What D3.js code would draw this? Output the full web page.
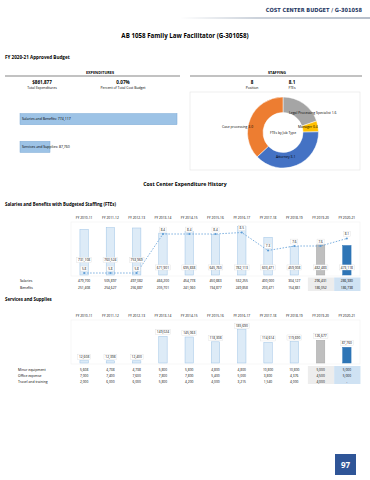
<!DOCTYPE html>
<html><head><meta charset="utf-8">
<script src="https://cdn.jsdelivr.net/npm/d3@7"></script>
<style>body{margin:0;background:#fff}svg{display:block}text{font-family:"Open Sans","Noto Sans",sans-serif}</style>
</head><body>
<script>
const years = ["FY 2010-11","FY 2011-12","FY 2012-13","FY 2013-14","FY 2014-15","FY 2015-16","FY 2016-17","FY 2017-18","FY 2018-19","FY 2019-20","FY 2020-21"];
const salBenTotals = [731108, 760524, 753969, 671901, 695838, 645760, 782113, 603471, 459008, 482483, 473118];
const salaries = [479700, 505897, 497082, 466200, 454778, 450883, 532255, 400000, 304127, 296431, 286380];
const benefits = [251408, 254627, 256887, 205701, 241060, 194877, 249858, 203471, 154881, 186052, 186738];
const ftes = [5.8, 5.8, 5.8, 8.4, 8.4, 8.4, 8.5, 7.3, 7.6, 7.6, 8.1];
const svcTotals = [12608, 12398, 12400, 149024, 145063, 118308, 185690, 114614, 119690, 126677, 87760];
const minorEquip = ["5,608","4,738","4,738","5,800","5,800","4,800","4,800","10,800","10,800","5,000","5,000"];
const officeExp = ["7,000","7,400","7,600","7,800","7,800","5,400","5,000","3,800","4,376","4,500","5,000"];
const travel = ["2,000","6,000","6,000","5,800","4,200","4,000","3,215","1,540","4,000","4,000","-"];
const jobTypes = ["Legal Processing Specialist","Manager","Attorney","Case processing"];
const jobFtes = [1.6, 0.4, 3.1, 3.0];
const expCats = ["Salaries and Benefits","Services and Supplies"];
const expVals = [774117, 87760];

const fmt = d3.format(",");
const svg = d3.select("body").append("svg").attr("width",370).attr("height",480);

function boxLabel(g, xx, yy, t, fs){
  const w = t.length*fs*0.55+2;
  g.append("rect").attr("x",xx-w/2).attr("y",yy-fs-0.3).attr("width",w).attr("height",fs+1.8).attr("fill","#fff").attr("stroke","#d9d9d9").attr("stroke-width",0.35);
  g.append("text").attr("x",xx).attr("y",yy).attr("text-anchor","middle").style("font-size",fs+"px").text(t);
}

// header
svg.append("text").attr("x",362).attr("y",12).attr("text-anchor","end")
  .style("font-family","'DejaVu Sans Condensed','DejaVu Sans'").style("font-weight","bold").style("font-size","5.6px").attr("fill","#1f3864")
  .text("COST CENTER BUDGET / G-301058");
const hg = svg.append("defs").append("linearGradient").attr("id","hg");
hg.append("stop").attr("offset","0").attr("stop-color","#fff");
hg.append("stop").attr("offset","0.4").attr("stop-color","#9aa7b8");
hg.append("stop").attr("offset","1").attr("stop-color","#6f7f96");
svg.append("rect").attr("x",180).attr("y",17.5).attr("width",190).attr("height",1).attr("fill","url(#hg)");

svg.append("text").attr("x",185).attr("y",37.5).attr("text-anchor","middle").style("font-weight","bold").style("font-size","6.2px").text("AB 1058 Family Law Facilitator (G-301058)");
svg.append("text").attr("x",5).attr("y",59).style("font-weight","bold").style("font-size","4.6px").text("FY 2020-21 Approved Budget");

function secHead(x, x1, x2, t){
  svg.append("text").attr("x",x).attr("y",73.5).attr("text-anchor","middle").style("font-weight","bold").style("font-size","3.8px").text(t);
  svg.append("line").attr("x1",x1).attr("x2",x2).attr("y1",76).attr("y2",76).attr("stroke","#333").attr("stroke-width",0.6);
}
secHead(100,5,180,"EXPENDITURES");
secHead(277,190,362,"STAFFING");
function kpi(x, v, l){
  svg.append("text").attr("x",x).attr("y",83.5).attr("text-anchor","middle").style("font-weight","bold").style("font-size","4.6px").text(v);
  svg.append("text").attr("x",x).attr("y",89).attr("text-anchor","middle").style("font-size","3.4px").text(l);
}
kpi(42,"$861,877","Total Expenditures");
kpi(123,"0.07%","Percent of Total Cost Budget");
kpi(252,"8","Position");
kpi(292,"8.1","FTEs");

const xe = d3.scaleLinear().domain([0, d3.max(expVals)]).range([0,157]);
const ye = d3.scaleBand().domain(expCats).range([108,158]).paddingInner(0.6).paddingOuter(0.2);
expCats.forEach((c,i)=>{
  const w = Math.max(xe(expVals[i]), 30);
  svg.append("rect").attr("x",20).attr("y",ye(c)).attr("width",w).attr("height",ye.bandwidth()).attr("fill","#9dc3e6").attr("stroke","#7ba7d4").attr("stroke-width",0.5);
  svg.append("text").attr("x",22).attr("y",ye(c)+ye.bandwidth()/2+1.3).style("font-size","3.5px").text(c+": "+fmt(expVals[i]));
});

// donut
svg.append("rect").attr("x",190).attr("y",92).attr("width",170).attr("height",78).attr("fill","none").attr("stroke","#e3e3e3").attr("stroke-width",0.6);
const pie = d3.pie().sort(null).value(d=>d)(jobFtes);
const arc = d3.arc().innerRadius(20).outerRadius(35.5);
const cols = ["#a5a5a5","#ffc000","#4472c4","#ed7d31"];
const dg = svg.append("g").attr("transform","translate(283,132.5)");
dg.selectAll("path").data(pie).join("path").attr("d",arc).attr("fill",(d,i)=>cols[i]).attr("stroke","#fff").attr("stroke-width",0.5);
const lpos = [[289,114],[298,127.5],[276,158],[222,127.5]];
jobTypes.forEach((t,i)=>{
  svg.append("text").attr("x",lpos[i][0]).attr("y",lpos[i][1]).style("font-size","3.4px").text(t+" "+jobFtes[i].toFixed(1));
});
svg.append("text").attr("x",283).attr("y",134).attr("text-anchor","middle").style("font-size","3.4px").text("FTEs by Job Type");

svg.append("text").attr("x",185).attr("y",186).attr("text-anchor","middle").style("font-weight","bold").style("font-size","5.2px").text("Cost Center Expenditure History");
svg.append("text").attr("x",5).attr("y",206).style("font-weight","bold").style("font-size","4.4px").text("Salaries and Benefits with Budgeted Staffing (FTEs)");

const x = d3.scaleBand().domain(years).range([71,360]).paddingInner(0.68).paddingOuter(0.34);
const cx = d=>x(d)+x.bandwidth()/2;
function barFill(i){return i===10?"#2e75b6":i===9?"#bfbfbf":"#ddebf7";}
function barStroke(i){return i===10?"#2e75b6":i===9?"#a6a6a6":"#9dc3e6";}

// salaries chart
svg.selectAll(".yh1").data(years).join("text").attr("x",d=>cx(d)).attr("y",218.5).attr("text-anchor","middle").style("font-size","3.3px").text(d=>d);
svg.append("rect").attr("x",71).attr("y",222).attr("width",289).attr("height",54).attr("fill","none").attr("stroke","#eee").attr("stroke-width",0.5);
const ys = d3.scaleLinear().domain([0,850000]).range([275,222]);
svg.selectAll(".sb").data(salBenTotals).join("rect").attr("x",(d,i)=>x(years[i])).attr("y",d=>ys(d)).attr("width",x.bandwidth()).attr("height",d=>275-ys(d))
  .attr("fill",(d,i)=>barFill(i)).attr("stroke",(d,i)=>barStroke(i)).attr("stroke-width",0.5);
const yf = d3.scaleLinear().domain([5.8,8.1]).range([273,238.5]);
const line = d3.line().x((d,i)=>cx(years[i])).y(d=>yf(d));
svg.append("path").attr("d",line(ftes)).attr("fill","none").attr("stroke","#5b9bd5").attr("stroke-width",0.8).attr("stroke-dasharray","1.5,1.5");
svg.selectAll(".fp").data(ftes).join("circle").attr("cx",(d,i)=>cx(years[i])).attr("cy",d=>yf(d)).attr("r",1).attr("fill","#5b9bd5");
const lab = svg.append("g");
salBenTotals.forEach((d,i)=>boxLabel(lab, cx(years[i]), i<3?261:268.5, fmt(d), 3.3));
ftes.forEach((d,i)=>boxLabel(lab, cx(years[i]), yf(d)-3.5, d.toFixed(1), 3.1));

function rowBg(y0,h){
  svg.append("rect").attr("x",x(years[9])-8.5).attr("y",y0).attr("width",26.3).attr("height",h).attr("fill","#ededed");
  svg.append("rect").attr("x",x(years[10])-8.5).attr("y",y0).attr("width",26.3).attr("height",h).attr("fill","#cfe2f3");
}
rowBg(277.5,13.5);
[["Salaries",salaries],["Benefits",benefits]].forEach((r,j)=>{
  const yy = 282+j*6.5;
  svg.append("text").attr("x",20).attr("y",yy).style("font-size","3.4px").text(r[0]);
  r[1].forEach((v,i)=>svg.append("text").attr("x",cx(years[i])).attr("y",yy).attr("text-anchor","middle").style("font-size","3.3px").text(fmt(v)));
});

// services chart
svg.append("text").attr("x",5).attr("y",301).style("font-weight","bold").style("font-size","4.4px").text("Services and Supplies");
svg.selectAll(".yh2").data(years).join("text").attr("x",d=>cx(d)).attr("y",317).attr("text-anchor","middle").style("font-size","3.3px").text(d=>d);
svg.append("rect").attr("x",71).attr("y",320).attr("width",289).attr("height",44).attr("fill","none").attr("stroke","#eee").attr("stroke-width",0.5);
const yv = d3.scaleLinear().domain([0,240000]).range([363,320]);
svg.selectAll(".sv").data(svcTotals).join("rect").attr("x",(d,i)=>x(years[i])).attr("y",d=>yv(d)).attr("width",x.bandwidth()).attr("height",d=>363-yv(d))
  .attr("fill",(d,i)=>barFill(i)).attr("stroke",(d,i)=>barStroke(i)).attr("stroke-width",0.5);
svcTotals.forEach((d,i)=>boxLabel(lab, cx(years[i]), yv(d)-3, fmt(d), 3.3));
rowBg(366,18);
[["Minor equipment",minorEquip],["Office expense",officeExp],["Travel and training",travel]].forEach((r,j)=>{
  const yy = 371+j*5.8;
  svg.append("text").attr("x",18).attr("y",yy).style("font-size","3.4px").text(r[0]);
  r[1].forEach((v,i)=>svg.append("text").attr("x",cx(years[i])).attr("y",yy).attr("text-anchor","middle").style("font-size","3.3px").text(v));
});

svg.append("rect").attr("x",335).attr("y",454).attr("width",21).attr("height",21).attr("fill","#2f5597");
svg.append("text").attr("x",345.5).attr("y",468).attr("text-anchor","middle").style("font-weight","bold").style("font-size","8px").attr("fill","#fff").text("97");
</script>
</body></html>
